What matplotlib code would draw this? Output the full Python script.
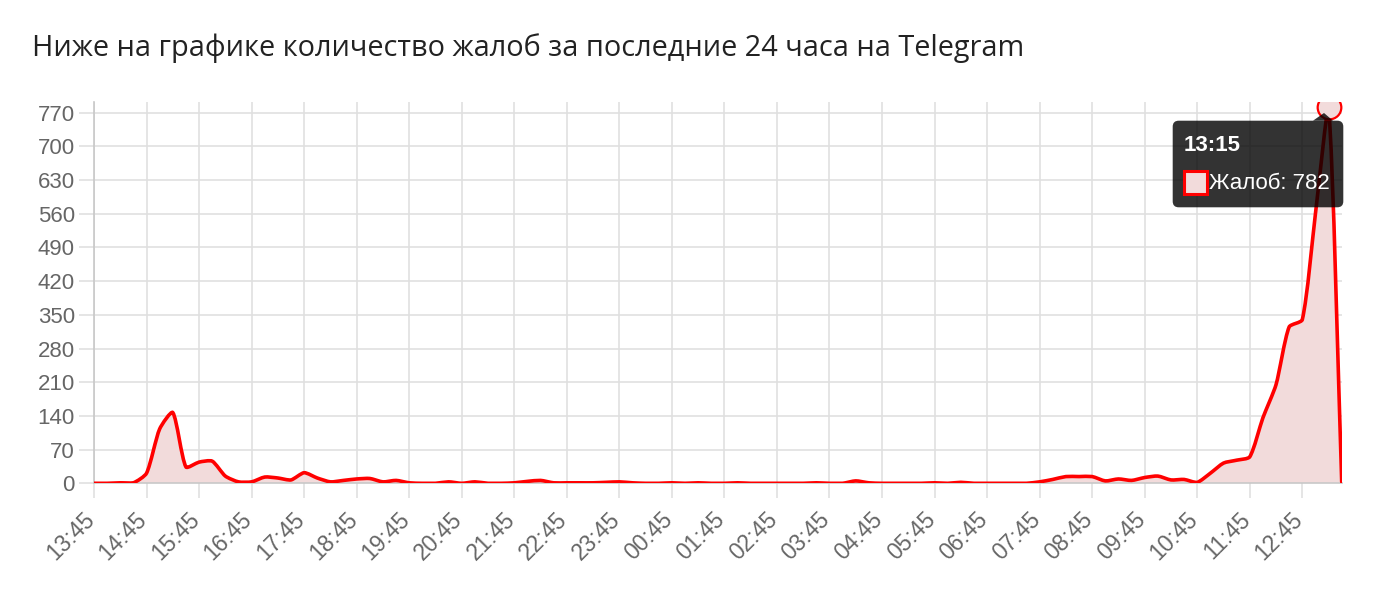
import numpy as np
import matplotlib
matplotlib.use("Agg")
import matplotlib.pyplot as plt
from matplotlib.path import Path
from matplotlib.patches import PathPatch, FancyBboxPatch, Rectangle, Polygon
from matplotlib.transforms import ScaledTranslation

# complaints every 15 minutes, starting 13:45
complaints = [0, 0, 1, 1, 21, 113, 147, 34, 44, 46, 15, 3, 3, 13, 11, 7,
              22, 11, 3, 6, 9, 10, 3, 6, 1, 0, 0, 3, 0, 3, 0, 0,
              1, 4, 6, 1, 1, 1, 1, 2, 3, 1, 0, 0, 1, 0, 1, 0,
              0, 1, 0, 0, 0, 0, 0, 1, 0, 0, 5, 1, 0, 0, 0, 0,
              1, 0, 2, 0, 0, 0, 0, 0, 3, 8, 14, 14, 14, 5, 9, 6,
              12, 15, 7, 8, 2, 21, 42, 48, 55, 136, 205, 325, 340, 560, 782, 3]
start_minutes = 13 * 60 + 45
time_labels = ["%02d:%02d" % (((start_minutes + 15 * k) // 60) % 24, (start_minutes + 15 * k) % 60)
               for k in range(len(complaints))]
y_ticks = list(range(0, 771, 70))
series_name = "Жалоб"
title = "Ниже на графике количество жалоб за последние 24 часа на Telegram"

W, H = 1380, 590
ax_left, ax_right, ax_top, ax_bottom = 94, 1341.7, 101.7, 483.3
y_max = 792.9

fig = plt.figure(figsize=(W / 100, H / 100), dpi=100)
ax = fig.add_axes([ax_left / W, 1 - ax_bottom / H, (ax_right - ax_left) / W, (ax_bottom - ax_top) / H])

x = np.arange(len(complaints), dtype=float)
y = np.array(complaints, dtype=float)
ax.set_xlim(0, len(x) - 1)
ax.set_ylim(0, y_max)

# chart.js style bezier, computed in pixel space
sx = (ax_right - ax_left) / (len(x) - 1)
sy = (ax_bottom - ax_top) / y_max
px, py = x * sx, y * sy
n = len(px)
cprev = np.zeros((n, 2))
cnext = np.zeros((n, 2))
t = 0.22
for i in range(n):
    a, b = max(i - 1, 0), min(i + 1, n - 1)
    d01 = np.hypot(px[i] - px[a], py[i] - py[a])
    d12 = np.hypot(px[b] - px[i], py[b] - py[i])
    tot = d01 + d12
    s01 = d01 / tot if tot else 0
    s12 = d12 / tot if tot else 0
    dx, dy = px[b] - px[a], py[b] - py[a]
    cprev[i] = (px[i] - t * s01 * dx, py[i] - t * s01 * dy)
    cnext[i] = (px[i] + t * s12 * dx, py[i] + t * s12 * dy)
for c in (cprev, cnext):
    c[:, 0] = np.clip(c[:, 0], 0, px[-1]) / sx
    c[:, 1] = np.clip(c[:, 1], 0, y_max * sy) / sy

verts = [(x[0], y[0])]
codes = [Path.MOVETO]
for i in range(n - 1):
    verts += [tuple(cnext[i]), tuple(cprev[i + 1]), (x[i + 1], y[i + 1])]
    codes += [Path.CURVE4] * 3
line_path = Path(verts, codes)
fill_path = Path(verts + [(x[-1], 0), (x[0], 0), (x[0], 0)],
                 codes + [Path.LINETO, Path.LINETO, Path.CLOSEPOLY])

fill_col = (0.95, 0.86, 0.86)
ax.add_patch(PathPatch(fill_path, facecolor=fill_col, edgecolor="none", zorder=2))
ax.add_patch(PathPatch(line_path, facecolor="none", edgecolor="#ff0000", lw=2.6,
                       joinstyle="round", capstyle="round", zorder=3))

peak = int(np.argmax(y))
ax.scatter([x[peak]], [y[peak]], s=290, facecolor=fill_col, edgecolor="#ff0000",
           linewidth=1.6, zorder=4)

# grid and axes
ax.set_xticks(x[::4])
ax.set_xticklabels(time_labels[::4])
ax.set_yticks(y_ticks)
ax.grid(True, color="#e0e0e0", lw=1.2, zorder=0)
ax.set_axisbelow(True)
for s in ("top", "right"):
    ax.spines[s].set_visible(False)
for s in ("left", "bottom"):
    ax.spines[s].set_color("#c8c8c8")
    ax.spines[s].set_linewidth(1.2)
ax.tick_params(axis="both", length=10.8, width=1.2, color="#e0e0e0",
               labelcolor="#666666", labelsize=16)
ax.tick_params(axis="y", pad=3)
ax.tick_params(axis="x", pad=13, labelsize=16.5)
for lab in ax.get_yticklabels() + ax.get_xticklabels():
    lab.set_fontfamily("Liberation Sans")
for lab in ax.get_xticklabels():
    lab.set_rotation(45)
    lab.set_ha("right")
    lab.set_va("center")
    lab.set_rotation_mode("anchor")
    lab.set_transform(lab.get_transform() + ScaledTranslation(-0.03, 0, fig.dpi_scale_trans))

fig.text(32 / W, 1 - 56 / H, title, fontsize=20.8, family="Open Sans", color="#222222",
         va="baseline", ha="left")

# tooltip overlay in pixel coordinates
ov = fig.add_axes([0, 0, 1, 1], zorder=10)
ov.set_xlim(0, W)
ov.set_ylim(H, 0)
ov.axis("off")
ov.patch.set_alpha(0)
tip = dict(facecolor="black", edgecolor="none", alpha=0.8)
ov.add_patch(FancyBboxPatch((1172.7, 120.7), 170.6, 86.6,
                            boxstyle="round,pad=0,rounding_size=6", **tip))
ov.add_patch(Polygon([(1313, 120.7), (1324, 113), (1333, 120.7)], closed=True, **tip))
ov.text(1184, 151, time_labels[peak], color="white", fontsize=16, fontweight="bold",
        family="Liberation Sans", va="baseline", ha="left")
ov.add_patch(Rectangle((1183.5, 171), 23, 23, facecolor=fill_col, edgecolor="#ff0000", lw=2.2))
ov.text(1209, 189, "%s: %d" % (series_name, complaints[peak]), color="white", fontsize=16,
        family="Liberation Sans", va="baseline", ha="left")

fig.savefig("out.png", dpi=100)
